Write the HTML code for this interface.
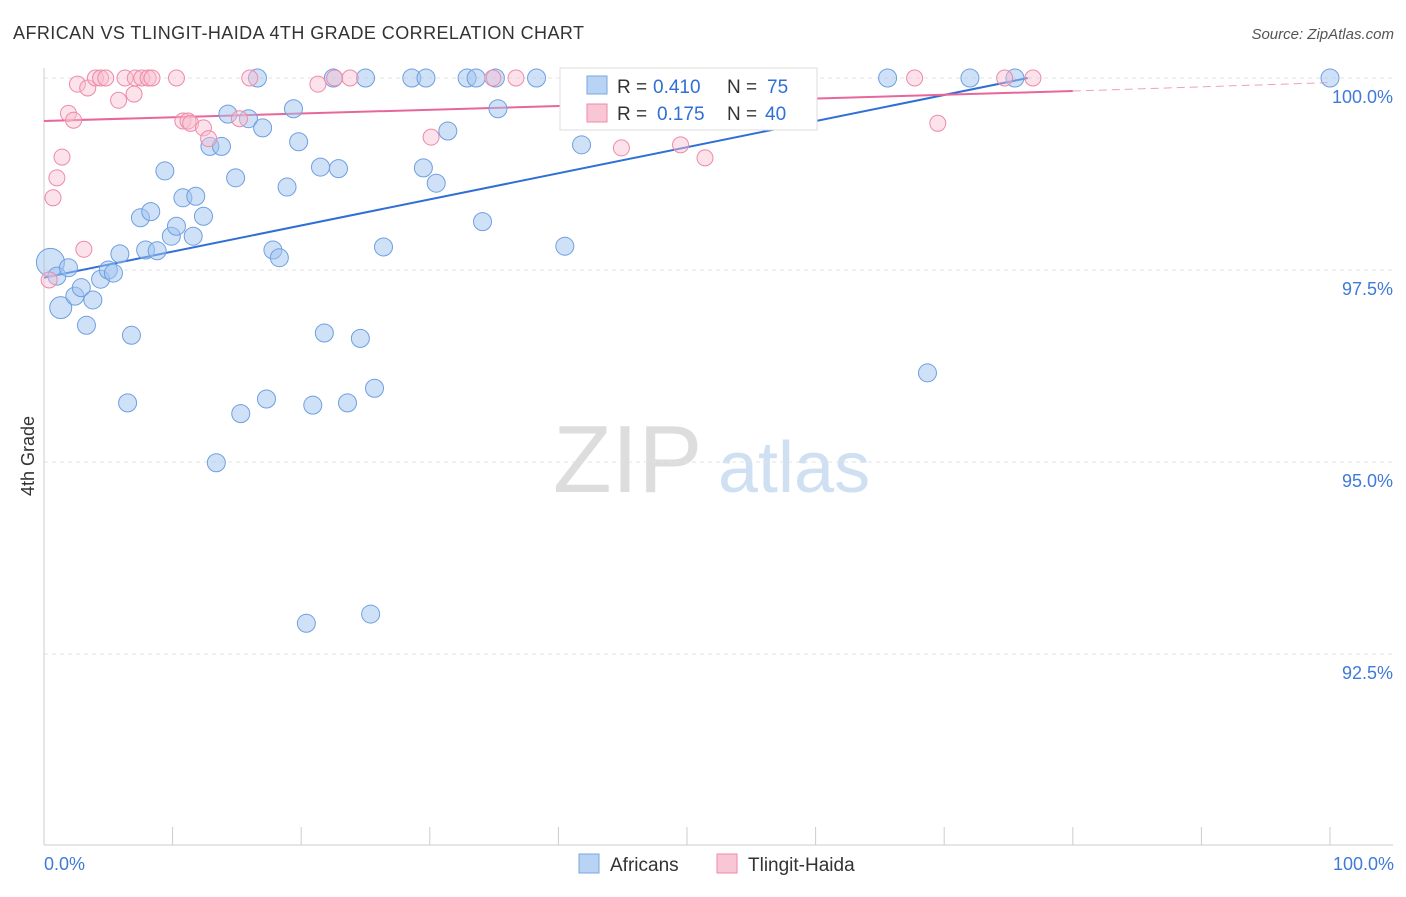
<!DOCTYPE html>
<html><head><meta charset="utf-8"><style>
body{margin:0;background:#fff;font-family:"Liberation Sans",sans-serif}
svg text{font-family:"Liberation Sans",sans-serif}
</style></head><body>
<svg id="chart" width="1406" height="892">
<text x="13" y="39" font-size="18" fill="#333" textLength="571">AFRICAN VS TLINGIT-HAIDA 4TH GRADE CORRELATION CHART</text>
<text x="1394" y="39" font-size="15" fill="#555" font-style="italic" text-anchor="end">Source: ZipAtlas.com</text>
<text x="34" y="456" font-size="18" fill="#333" transform="rotate(-90 34 456)" text-anchor="middle">4th Grade</text>
<g><text x="553" y="492" font-size="96" fill="#ddd" font-family="Liberation Serif,serif">ZIP</text><text x="718" y="492" font-size="72" fill="#cfe0f3">atlas</text></g>
<g id="grid"></g><g id="axes"></g><g id="trend"></g><g id="pts"></g>
<g>
<rect x="560" y="68" width="257" height="62" fill="#fff" stroke="#ddd"/>
<rect x="587" y="76" width="20" height="18" fill="#b8d3f3" stroke="#7aa7e0"/>
<text x="617" y="93" font-size="19" fill="#333">R =</text>
<text x="653" y="93" font-size="19" fill="#2f6fd6">0.410</text>
<text x="727" y="93" font-size="19" fill="#333">N =</text>
<text x="767" y="93" font-size="19" fill="#2f6fd6">75</text>
<rect x="587" y="104" width="20" height="18" fill="#f8c6d4" stroke="#ee8aa8"/>
<text x="617" y="120" font-size="19" fill="#333">R =</text>
<text x="657" y="120" font-size="19" fill="#2f6fd6">0.175</text>
<text x="727" y="120" font-size="19" fill="#333">N =</text>
<text x="765" y="120" font-size="19" fill="#2f6fd6">40</text>
</g>
<g>
<rect x="579" y="854" width="20" height="19" fill="#b8d3f3" stroke="#7aa7e0"/>
<text x="610" y="871" font-size="19" fill="#333">Africans</text>
<rect x="717" y="854" width="20" height="19" fill="#f8c6d4" stroke="#ee8aa8"/>
<text x="748" y="871" font-size="19" fill="#333">Tlingit-Haida</text>
</g>
</svg>
<script>
const blueX=[0.5,1.0,1.3,1.9,2.4,2.9,3.3,3.8,4.4,5.0,5.4,5.9,6.5,6.8,7.9,8.8,7.5,8.3,9.4,9.9,10.3,10.8,11.6,11.8,12.4,12.9,13.4,13.8,14.3,14.9,15.3,15.9,17.0,17.3,17.8,18.3,18.9,19.4,19.8,20.4,20.9,21.5,21.8,22.5,22.9,23.6,24.6,25.0,25.4,25.7,26.4,28.6,29.5,29.7,30.5,31.4,32.9,33.6,34.1,35.1,35.3,38.3,40.5,41.8,52.4,55.4,59.1,65.6,68.7,72.0,75.5,100,16.6,43.2];
const blueY=[97.60,97.42,97.01,97.53,97.16,97.27,96.78,97.11,97.38,97.50,97.46,97.71,95.77,96.65,97.76,97.75,98.18,98.26,98.79,97.94,98.07,98.44,97.94,98.46,98.20,99.11,94.99,99.11,99.53,98.70,95.63,99.47,99.35,95.82,97.76,97.66,98.58,99.60,99.17,92.90,95.74,98.84,96.68,100,98.82,95.77,96.61,100,93.02,95.96,97.80,100,98.83,100,98.63,99.31,100,100,98.13,100,99.60,100,97.81,99.13,100,100,100,100,96.16,100,100,100,100,100];
const blueR=[14,9,11];
const pinkX=[0.4,0.7,1.0,1.4,1.9,2.3,2.6,3.1,3.4,4.0,4.4,4.8,5.8,6.3,7.0,7.1,7.6,8.1,8.4,10.3,10.8,11.2,11.4,12.4,12.8,15.2,16.0,21.3,22.6,23.8,30.1,34.9,36.7,44.9,49.5,51.4,67.7,69.5,74.7,76.9];
const pinkY=[97.37,98.44,98.70,98.97,99.54,99.45,99.92,97.77,99.87,100,100,100,99.71,100,99.79,100,100,100,100,100,99.44,99.44,99.41,99.35,99.21,99.47,100,99.92,100,100,99.23,100,100,99.09,99.13,98.96,100,99.41,100,100];
const blueTrend=[0,97.40,76.5,100];
const pinkTrend=[0,99.44,80,99.83,100,99.94];
const yTicks=[100,97.5,95,92.5];
const yTickLabels=["100.0%","97.5%","95.0%","92.5%"];
const NS="http://www.w3.org/2000/svg";
const X=v=>44+v*12.86, Y=v=>78+(100-v)*76.8;
function mk(tag,attrs,parent){const e=document.createElementNS(NS,tag);for(const k in attrs)e.setAttribute(k,attrs[k]);document.getElementById(parent).appendChild(e);return e;}
yTicks.forEach((t,i)=>{
 const g=mk('line',{x1:44,x2:1393,y1:Y(t),y2:Y(t),stroke:'#e3e3e3','stroke-dasharray':'4,4'},'grid');
 
 
 const l=mk('text',{x:1393,y:Y(t)+25,'font-size':18,fill:'#3f7ad8','text-anchor':'end'},'axes');
 l.textContent=yTickLabels[i];
 
 
});
mk('line',{x1:44,x2:44,y1:68,y2:845,stroke:'#ccc'},'axes');
mk('line',{x1:44,x2:1393,y1:845,y2:845,stroke:'#ccc'},'axes');
for(let i=0;i<=10;i++){mk('line',{x1:X(i*10),x2:X(i*10),y1:827,y2:845,stroke:'#ccc'},'axes');}
[[0,"0.0%","start",44],[100,"100.0%","end",1394]].forEach(d=>{const t=mk('text',{x:d[3],y:870,'font-size':18,fill:'#3f7ad8','text-anchor':d[2]},'axes');t.textContent=d[1];
 
 });
blueX.forEach((x,i)=>{const c=mk('circle',{cx:X(x),cy:Y(blueY[i]),r:blueR[i]||9,fill:'rgba(160,196,240,0.5)',stroke:'#6f9fe0','stroke-width':1},'pts');
 
 });
pinkX.forEach((x,i)=>{const c=mk('circle',{cx:X(x),cy:Y(pinkY[i]),r:8,fill:'rgba(248,190,208,0.45)',stroke:'#ee8aa8','stroke-width':1},'pts');
 
 });
const bt=mk('line',{x1:X(blueTrend[0]),y1:Y(blueTrend[1]),x2:X(blueTrend[2]),y2:Y(blueTrend[3]),stroke:'#2f6fd6','stroke-width':2},'trend');


const pt=mk('line',{x1:X(pinkTrend[0]),y1:Y(pinkTrend[1]),x2:X(pinkTrend[2]),y2:Y(pinkTrend[3]),stroke:'#e8679a','stroke-width':2},'trend');


const pd=mk('line',{x1:X(pinkTrend[2]),y1:Y(pinkTrend[3]),x2:X(pinkTrend[4]),y2:Y(pinkTrend[5]),stroke:'#f0a0bd','stroke-width':1,'stroke-dasharray':'8,5'},'trend');


</script>
</body></html>
